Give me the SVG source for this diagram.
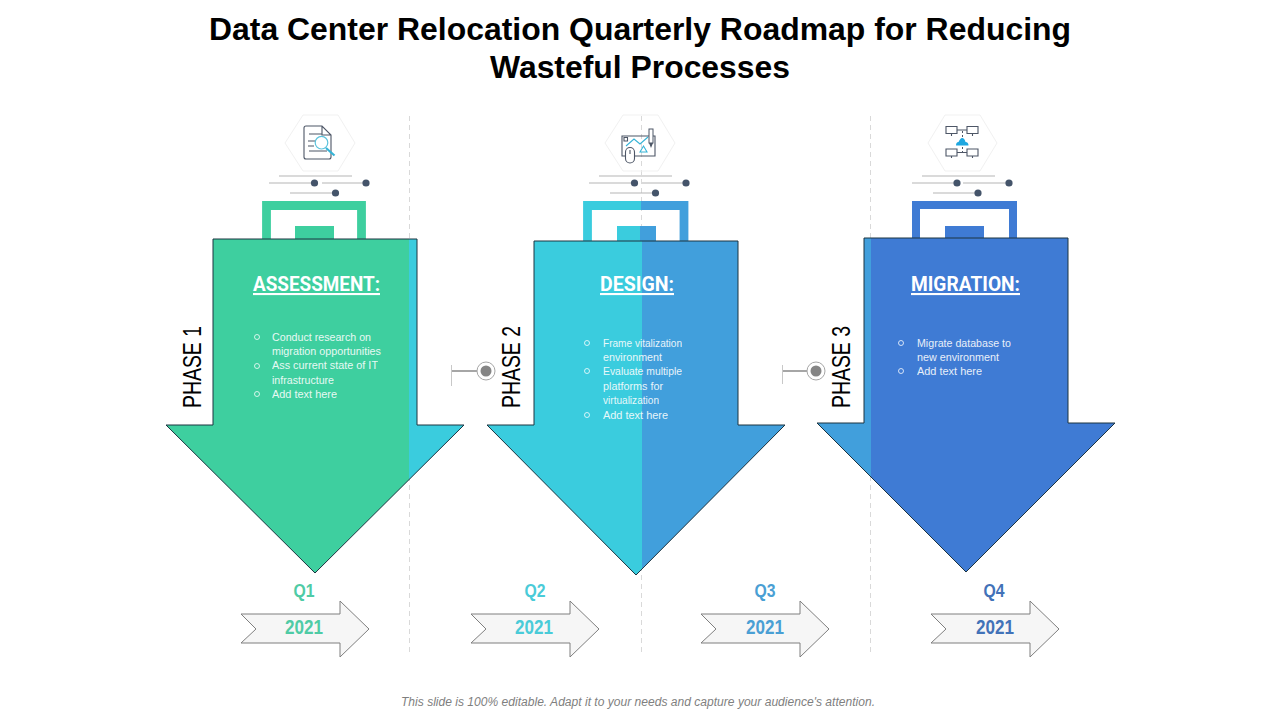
<svg xmlns="http://www.w3.org/2000/svg" width="1280" height="720" viewBox="0 0 1280 720">
<defs>
<style>
.title{font:bold 31px "Liberation Sans",Arial,sans-serif;fill:#000;text-anchor:middle}
.head{font:bold 21px Roboto,"Liberation Sans",sans-serif;fill:#fff;text-decoration:underline}
.body{font:11.5px "Liberation Sans",Arial,sans-serif;fill:#fff;opacity:.88}
.bul{fill:none;stroke:#fff;stroke-width:.9;opacity:.85}
.phase{font:25px "Liberation Sans",Arial,sans-serif;fill:#000}
.q{font:bold 18px "Liberation Sans",Arial,sans-serif;text-anchor:middle}
.yr{font:bold 20px "Liberation Sans",Arial,sans-serif;text-anchor:middle}
.dash{stroke:#d9d9d9;stroke-width:1;stroke-dasharray:5 4;fill:none}
.out{fill:none;stroke:#1c3440;stroke-width:1}
.hex{fill:none;stroke:#f1f1f1;stroke-width:1}
.ln{stroke:#b5b5b5;stroke-width:1;fill:none}
.dot{fill:#44546a}
.small{fill:#f6f6f6;stroke:#7f7f7f;stroke-width:1}
.ic{fill:none;stroke:#4d5666;stroke-width:1.1}
.ib{fill:none;stroke:#35b3d6;stroke-width:1.1}
.conn{stroke:#808080;stroke-width:1.4;fill:none}
.foot{font:italic 12px "Liberation Sans",Arial,sans-serif;fill:#7f7f7f;text-anchor:middle}
</style>
<clipPath id="a1"><path d="M213 239H417V425H464L315 573L166 425H213Z"/></clipPath>
<clipPath id="a2"><path d="M534 241H738V425H785L636 575L487 425H534Z"/></clipPath>
<clipPath id="a3"><path d="M864 238H1068V423H1115L966 572L817 423H864Z"/></clipPath>
</defs>
<rect width="1280" height="720" fill="#fff"/>
<text class="title" x="640" y="40" textLength="862" lengthAdjust="spacingAndGlyphs">Data Center Relocation Quarterly Roadmap for Reducing</text>
<text class="title" x="640" y="78" textLength="300" lengthAdjust="spacingAndGlyphs">Wasteful Processes</text>

<g id="connectors">
<path class="dash" d="M409.500 116V655"/>
<path class="dash" d="M641.500 116V655"/>
<path class="dash" d="M870.500 116V655"/>
<path class="conn" d="M452 371H478"/>
<path class="conn" d="M783 371H808"/>
<path d="M451.500 365V386" stroke="#c8c8c8" stroke-width="1"/>
<path d="M782.500 365V384" stroke="#c8c8c8" stroke-width="1"/>
</g>

<g id="phase1">
<path class="hex" d="M303 115H338L355 143L338 171H303L285 143Z"/>
<g id="icon1">
<path class="ic" d="M306 126H322L331 135V157Q331 159 329 159H306Q304 159 304 157V128Q304 126 306 126ZM322 126V135H331"/>
<path class="ic" d="M309 134H322M308 141H315M308 146H314M309 151H327"/>
<circle cx="321.500" cy="142.700" r="6.300" fill="#fff" stroke="#5cc3dc" stroke-width="1.200"/>
<path d="M326 148L334.500 155.500" stroke="#35b3d6" stroke-width="2.200" fill="none"/>
</g>
<path class="ln" d="M279 176H352M269 183H314M322 183H366M290 193H335"/>
<circle class="dot" cx="314.500" cy="183" r="3.600"/><circle class="dot" cx="366" cy="183" r="3.600"/><circle class="dot" cx="335.500" cy="193" r="3.600"/>
<path d="M266.500 240V205.500H361.500V240" fill="none" stroke="#3ecf9f" stroke-width="8.800"/>
<rect x="295" y="226" width="39" height="14" fill="#3ecf9f"/>
<g clip-path="url(#a1)"><rect x="160" y="235" width="249" height="345" fill="#3ecf9f"/><rect x="409" y="235" width="60" height="345" fill="#3accde"/></g>
<path class="out" d="M213 239H417V425H464L315 573L166 425H213Z"/>
<text class="head" x="253" y="291" textLength="127" lengthAdjust="spacingAndGlyphs">ASSESSMENT:</text>
<circle class="bul" cx="257" cy="337" r="2.500"/><circle class="bul" cx="257" cy="366" r="2.500"/><circle class="bul" cx="257" cy="394" r="2.500"/>
<text class="body" x="272" y="341" textLength="99" lengthAdjust="spacingAndGlyphs">Conduct research on</text>
<text class="body" x="272" y="355" textLength="109" lengthAdjust="spacingAndGlyphs">migration opportunities</text>
<text class="body" x="272" y="369" textLength="106" lengthAdjust="spacingAndGlyphs">Ass current state of IT</text>
<text class="body" x="272" y="384" textLength="62" lengthAdjust="spacingAndGlyphs">infrastructure</text>
<text class="body" x="272" y="398" textLength="65" lengthAdjust="spacingAndGlyphs">Add text here</text>
<text class="phase" transform="translate(201 408) rotate(-90)" textLength="82" lengthAdjust="spacingAndGlyphs">PHASE 1</text>
</g>

<g id="phase2">
<path class="hex" d="M623 115H658L675 143L658 171H623L605 143Z"/>
<g id="icon2">
<path class="ic" d="M622 136H655V156H622Z"/>
<path class="ic" d="M624 137.500H627.500V141H624Z"/>
<path class="ib" d="M626 146L634 139L640 144L648 137"/>
<path class="ib" d="M640 152L643.500 146L647 152Z"/>
<rect x="649" y="129" width="4" height="14" fill="#fff" stroke="#4d5666" stroke-width="1"/>
<path d="M649 143L651 148L653 143" fill="#4d5666"/>
<rect x="625.500" y="147.500" width="9" height="15.500" rx="4.500" fill="#fff" stroke="#4d5666" stroke-width="1.100"/>
<path class="ic" d="M630 150V154"/>
</g>
<path class="ln" d="M599 176H672M589 183H634M642 183H686M610 193H655"/>
<circle class="dot" cx="634.500" cy="183" r="3.600"/><circle class="dot" cx="686" cy="183" r="3.600"/><circle class="dot" cx="655.500" cy="193" r="3.600"/>
<path d="M587.500 242V205.500H641" fill="none" stroke="#3accde" stroke-width="8.800"/>
<path d="M641 205.500H684V242" fill="none" stroke="#419fdc" stroke-width="8.800"/>
<rect x="617" y="226" width="24" height="16" fill="#3accde"/><rect x="640" y="226" width="16" height="16" fill="#419fdc"/>
<g clip-path="url(#a2)"><rect x="480" y="235" width="162" height="345" fill="#3accde"/><rect x="642" y="235" width="150" height="345" fill="#419fdc"/></g>
<path class="out" d="M534 241H738V425H785L636 575L487 425H534Z"/>
<text class="head" x="600" y="291" textLength="74" lengthAdjust="spacingAndGlyphs">DESIGN:</text>
<circle class="bul" cx="587" cy="343" r="2.500"/><circle class="bul" cx="587" cy="371" r="2.500"/><circle class="bul" cx="587" cy="415" r="2.500"/>
<text class="body" x="603" y="347" textLength="79" lengthAdjust="spacingAndGlyphs">Frame vitalization</text>
<text class="body" x="603" y="361" textLength="59" lengthAdjust="spacingAndGlyphs">environment</text>
<text class="body" x="603" y="375" textLength="79" lengthAdjust="spacingAndGlyphs">Evaluate multiple</text>
<text class="body" x="603" y="390" textLength="60" lengthAdjust="spacingAndGlyphs">platforms for</text>
<text class="body" x="603" y="404" textLength="56" lengthAdjust="spacingAndGlyphs">virtualization</text>
<text class="body" x="603" y="419" textLength="65" lengthAdjust="spacingAndGlyphs">Add text here</text>
<text class="phase" transform="translate(520 408) rotate(-90)" textLength="82" lengthAdjust="spacingAndGlyphs">PHASE 2</text>
<circle cx="486" cy="371" r="9" fill="#fff" stroke="#a6a6a6" stroke-width="1"/><circle cx="486" cy="371" r="5.500" fill="#858585"/>
</g>

<g id="phase3">
<path class="hex" d="M945 115H980L997 143L980 171H945L928 143Z"/>
<g id="icon3">
<path class="ic" d="M946 126.500H957V133.500H946ZM967 126.500H978V133.500H967ZM946 149H957V156H946ZM967 149H978V156H967Z"/>
<path class="ic" d="M951.500 133.500V136M972.500 133.500V136M951.500 156V158M972.500 156V158M957 130H967M957 152.500H967"/>
<path d="M956 145.500Q956 142 958.500 142Q960.500 138 962 138Q964.500 138 965.500 142Q968.500 142 968.500 145.500Z" fill="#1ea7e0"/>
<path d="M962.500 131V137M962.500 147V152" stroke="#4d5666" stroke-width="1" stroke-dasharray="2 2" fill="none"/>
</g>
<path class="ln" d="M922 176H995M912 183H956M963 183H1008M933 193H977"/>
<circle class="dot" cx="957" cy="183" r="3.600"/><circle class="dot" cx="1009" cy="183" r="3.600"/><circle class="dot" cx="978" cy="193" r="3.600"/>
<path d="M916 239V205H1013V239" fill="none" stroke="#3f7bd4" stroke-width="8"/>
<rect x="945" y="226" width="39" height="13" fill="#3f7bd4"/>
<g clip-path="url(#a3)"><rect x="810" y="232" width="61" height="345" fill="#419fdc"/><rect x="871" y="232" width="250" height="345" fill="#3f7bd4"/></g>
<path class="out" d="M864 238H1068V423H1115L966 572L817 423H864Z"/>
<text class="head" x="911" y="291" textLength="109" lengthAdjust="spacingAndGlyphs">MIGRATION:</text>
<circle class="bul" cx="901" cy="343" r="2.500"/><circle class="bul" cx="901" cy="371" r="2.500"/>
<text class="body" x="917" y="347" textLength="94" lengthAdjust="spacingAndGlyphs">Migrate database to</text>
<text class="body" x="917" y="361" textLength="82" lengthAdjust="spacingAndGlyphs">new environment</text>
<text class="body" x="917" y="375" textLength="65" lengthAdjust="spacingAndGlyphs">Add text here</text>
<text class="phase" transform="translate(850 408) rotate(-90)" textLength="82" lengthAdjust="spacingAndGlyphs">PHASE 3</text>
<circle cx="816" cy="371" r="9" fill="#fff" stroke="#a6a6a6" stroke-width="1"/><circle cx="816" cy="371" r="5.500" fill="#858585"/>
</g>

<g id="q1">
<text class="q" x="304" y="597" fill="#4fcba5" textLength="21" lengthAdjust="spacingAndGlyphs">Q1</text>
<path class="small" d="M241 614H340V601L369 629L340 657V643H241L256 629Z"/>
<text class="yr" x="304" y="634" fill="#4fcba5" textLength="38" lengthAdjust="spacingAndGlyphs">2021</text>
</g>
<g id="q2">
<text class="q" x="535" y="597" fill="#4acbd8" textLength="21" lengthAdjust="spacingAndGlyphs">Q2</text>
<path class="small" d="M471 614H570V601L599 629L570 657V643H471L486 629Z"/>
<text class="yr" x="534" y="634" fill="#4acbd8" textLength="38" lengthAdjust="spacingAndGlyphs">2021</text>
</g>
<g id="q3">
<text class="q" x="765" y="597" fill="#4a9fd4" textLength="21" lengthAdjust="spacingAndGlyphs">Q3</text>
<path class="small" d="M701 614H800V601L829 629L800 657V643H701L716 629Z"/>
<text class="yr" x="765" y="634" fill="#4a9fd4" textLength="38" lengthAdjust="spacingAndGlyphs">2021</text>
</g>
<g id="q4">
<text class="q" x="994" y="597" fill="#4272b8" textLength="21" lengthAdjust="spacingAndGlyphs">Q4</text>
<path class="small" d="M931 614H1030V601L1059 629L1030 657V643H931L946 629Z"/>
<text class="yr" x="995" y="634" fill="#4272b8" textLength="38" lengthAdjust="spacingAndGlyphs">2021</text>
</g>
<text class="foot" x="638" y="706" textLength="474" lengthAdjust="spacingAndGlyphs">This slide is 100% editable. Adapt it to your needs and capture your audience's attention.</text>
</svg>
